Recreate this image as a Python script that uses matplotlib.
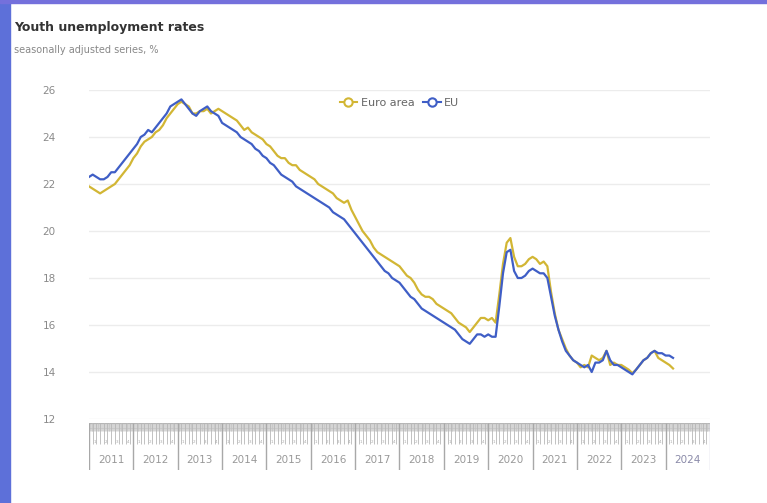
import numpy as np
import matplotlib.pyplot as plt
from matplotlib.patches import Rectangle
from matplotlib.lines import Line2D

# monthly values, Jan 2011 .. Mar 2024
euro_area = [
    21.9, 21.8, 21.7, 21.6, 21.7, 21.8, 21.9, 22.0, 22.2, 22.4, 22.6, 22.8,  # 2011
    23.1, 23.3, 23.6, 23.8, 23.9, 24.0, 24.2, 24.3, 24.5, 24.8, 25.0, 25.2,  # 2012
    25.4, 25.5, 25.4, 25.3, 25.0, 25.0, 25.1, 25.1, 25.2, 25.0, 25.1, 25.2,  # 2013
    25.1, 25.0, 24.9, 24.8, 24.7, 24.5, 24.3, 24.4, 24.2, 24.1, 24.0, 23.9,  # 2014
    23.7, 23.6, 23.4, 23.2, 23.1, 23.1, 22.9, 22.8, 22.8, 22.6, 22.5, 22.4,  # 2015
    22.3, 22.2, 22.0, 21.9, 21.8, 21.7, 21.6, 21.4, 21.3, 21.2, 21.3, 20.9,  # 2016
    20.6, 20.3, 20.0, 19.8, 19.6, 19.3, 19.1, 19.0, 18.9, 18.8, 18.7, 18.6,  # 2017
    18.5, 18.3, 18.1, 18.0, 17.8, 17.5, 17.3, 17.2, 17.2, 17.1, 16.9, 16.8,  # 2018
    16.7, 16.6, 16.5, 16.3, 16.1, 16.0, 15.9, 15.7, 15.9, 16.1, 16.3, 16.3,  # 2019
    16.2, 16.3, 16.1, 17.3, 18.6, 19.5, 19.7, 18.9, 18.5, 18.5, 18.6, 18.8,  # 2020
    18.9, 18.8, 18.6, 18.7, 18.5, 17.4, 16.5, 15.8, 15.4, 15.0, 14.7, 14.5,  # 2021
    14.4, 14.2, 14.3, 14.2, 14.7, 14.6, 14.5, 14.6, 14.9, 14.3, 14.4, 14.3,  # 2022
    14.3, 14.2, 14.1, 13.95, 14.1, 14.3, 14.5, 14.6, 14.8, 14.9, 14.6, 14.5,  # 2023
    14.4, 14.3, 14.15,  # 2024
]
eu = [
    22.3, 22.4, 22.3, 22.2, 22.2, 22.3, 22.5, 22.5, 22.7, 22.9, 23.1, 23.3,
    23.5, 23.7, 24.0, 24.1, 24.3, 24.2, 24.4, 24.6, 24.8, 25.0, 25.3, 25.4,
    25.5, 25.6, 25.4, 25.2, 25.0, 24.9, 25.1, 25.2, 25.3, 25.1, 25.0, 24.9,
    24.6, 24.5, 24.4, 24.3, 24.2, 24.0, 23.9, 23.8, 23.7, 23.5, 23.4, 23.2,
    23.1, 22.9, 22.8, 22.6, 22.4, 22.3, 22.2, 22.1, 21.9, 21.8, 21.7, 21.6,
    21.5, 21.4, 21.3, 21.2, 21.1, 21.0, 20.8, 20.7, 20.6, 20.5, 20.3, 20.1,
    19.9, 19.7, 19.5, 19.3, 19.1, 18.9, 18.7, 18.5, 18.3, 18.2, 18.0, 17.9,
    17.8, 17.6, 17.4, 17.2, 17.1, 16.9, 16.7, 16.6, 16.5, 16.4, 16.3, 16.2,
    16.1, 16.0, 15.9, 15.8, 15.6, 15.4, 15.3, 15.2, 15.4, 15.6, 15.6, 15.5,
    15.6, 15.5, 15.5, 16.8, 18.2, 19.1, 19.2, 18.3, 18.0, 18.0, 18.1, 18.3,
    18.4, 18.3, 18.2, 18.2, 18.0, 17.2, 16.4, 15.8, 15.3, 14.9, 14.7, 14.5,
    14.4, 14.3, 14.2, 14.3, 14.0, 14.4, 14.4, 14.5, 14.9, 14.5, 14.3, 14.3,
    14.2, 14.1, 14.0, 13.9, 14.1, 14.3, 14.5, 14.6, 14.8, 14.9, 14.8, 14.8,
    14.7, 14.7, 14.6,
]
years = list(range(2011, 2025))
yticks = [12, 14, 16, 18, 20, 22, 24, 26]

W, H = 767, 503
YELLOW = '#d2b634'
BLUE = '#3f5ec6'
GREY = '#8a8a8a'

fig = plt.figure(figsize=(W / 100, H / 100), dpi=100)
fig.patch.set_facecolor('white')

# blue frame on the left and top of the screenshot
fig.patches.append(Rectangle((0, 0), 10 / W, 1, transform=fig.transFigure,
                             color='#5d70d9', zorder=0))
fig.patches.append(Rectangle((0, 1 - 3 / H), 1, 3 / H, transform=fig.transFigure,
                             color='#7470dc', zorder=0))


def px(x0, y0, x1, y1):
    return [x0 / W, 1 - y1 / H, (x1 - x0) / W, (y1 - y0) / H]


ax = fig.add_axes(px(89, 90, 710, 419))
x = 2011 + np.arange(len(euro_area)) / 12
ax.plot(x, euro_area, color=YELLOW, lw=1.6)
ax.plot(x, eu, color=BLUE, lw=1.6)
ax.set_xlim(2011, 2025)
ax.set_ylim(12, 26)
ax.set_yticks(yticks)
ax.set_yticklabels([str(v) for v in yticks], color=GREY, fontsize=7.5)
ax.tick_params(axis='y', length=0, pad=24)
ax.set_xticks([])
for s in ax.spines.values():
    s.set_visible(False)
ax.grid(axis='y', color='#ececec', lw=1)
ax.set_axisbelow(True)

# legend with hollow-circle markers
handles = [Line2D([], [], color=YELLOW, lw=1.5, marker='o', ms=6, mfc='white', mew=1.5),
           Line2D([], [], color=BLUE, lw=1.5, marker='o', ms=6, mfc='white', mew=1.5)]
ax.legend(handles, ['Euro area', 'EU'], loc='upper center', bbox_to_anchor=(0.5, 1.005),
          ncol=2, frameon=False, fontsize=8, labelcolor='#666666',
          handlelength=1.6, handletextpad=0.3, columnspacing=0.8)

# time band under the plot
bx = fig.add_axes(px(89, 423, 710, 470))
bx.set_xlim(2011, 2025)
bx.set_ylim(0, 1)
bx.axis('off')
bx.axhline(1, color='#b0b0b0', lw=1)
bx.axhline(0.9, color='#d0d0d0', lw=0.6)
weeks = 2011 + np.arange(0, 14 * 52) / 52
bx.vlines(weeks, 0.82, 1, color='#c4c4c4', lw=0.5)
months = 2011 + np.arange(0, 14 * 12) / 12
bx.vlines(months, 0.55, 1, color='#b8b8b8', lw=0.6)
for yr in years:
    bx.vlines(yr, 0, 1, color='#a8a8a8', lw=1)
    for k, lab in enumerate(['1', '2', '3', '4']):
        bx.text(yr + (k * 3 + 1.5) / 12, 0.6, lab, fontsize=3, color='#aaaaaa',
                ha='center', va='center')
    bx.text(yr + 0.5, 0.22, str(yr), fontsize=7.5,
            color='#8a8aa8' if yr == 2024 else '#999999', ha='center', va='center')
bx.vlines(2025, 0, 1, color='#c8c8e0', lw=1)

fig.text(14 / W, 1 - 28 / H, 'Youth unemployment rates', fontsize=9, fontweight='bold',
         color='#333333', va='center')
fig.text(14 / W, 1 - 50 / H, 'seasonally adjusted series, %', fontsize=7,
         color='#888888', va='center')

fig.savefig('out.png', dpi=100)
